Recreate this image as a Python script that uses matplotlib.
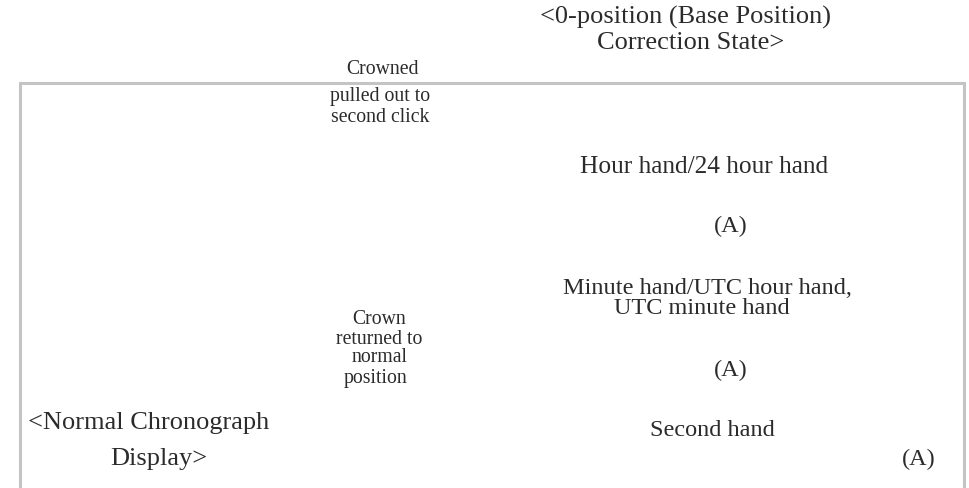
import matplotlib
matplotlib.use("Agg")
import matplotlib.pyplot as plt

W, H = 969, 488

# Text content (each entry = one block of lines)
title_lines = ["<0-position (Base Position)", "Correction State>"]
pull_lines = ["Crowned", "pulled out to", "second click"]
return_lines = ["Crown", "returned to", "normal", "position"]
normal_lines = ["<Normal Chronograph", "Display>"]
hour_lines = ["Hour hand/24 hour hand"]
minute_lines = ["Minute hand/UTC hour hand,", "UTC minute hand"]
second_lines = ["Second hand"]
marker_label = "(A)"

# Layout (pixel centres of each line)
blocks = [
    (title_lines, [686, 691], [17, 43], 19.0),
    (pull_lines, [383, 380, 380], [69, 97, 117], 14.2),
    (return_lines, [379, 379, 380, 376], [320, 340, 358, 378], 14.2),
    (normal_lines, [149, 159], [423, 459], 19.0),
    (hour_lines, [704], [167], 18.3),
    (minute_lines, [707, 702], [288, 309], 17.5),
    (second_lines, [712], [431], 17.5),
    ([marker_label], [731], [226], 17.5),
    ([marker_label], [731], [370], 17.5),
    ([marker_label], [919], [459], 17.5),
]

fig = plt.figure(figsize=(W / 100, H / 100), dpi=100)
ax = fig.add_axes([0, 0, 1, 1])
ax.set_xlim(0, W)
ax.set_ylim(H, 0)
ax.axis("off")

# frame (top, left, right edges)
line_color = "#c4c4c4"
ax.plot([20, 20, 964, 964], [H + 5, 83, 83, H + 5], color=line_color, lw=2.2,
        solid_joinstyle="miter", zorder=1)

for lines, xs, ys, fs in blocks:
    for txt, x, y in zip(lines, xs, ys):
        ax.text(x, y, txt, ha="center", va="center", fontsize=fs,
                family="Liberation Serif", color="#2b2b2b", zorder=2)

fig.savefig("out.png", dpi=100)
